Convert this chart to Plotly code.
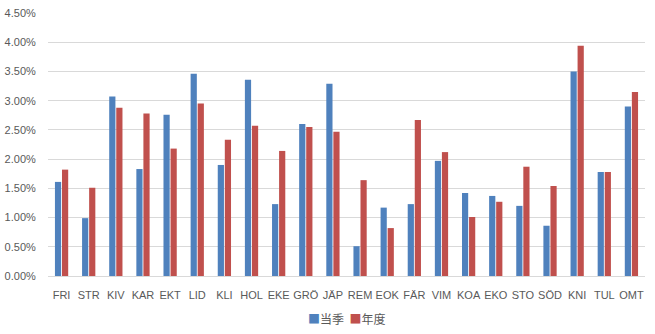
import plotly.graph_objects as go

categories = ["FRI", "STR", "KIV", "KAR", "EKT", "LID", "KLI", "HOL", "EKE", "GRÖ", "JÄP",
              "REM", "EOK", "FÄR", "VIM", "KOA", "EKO", "STO", "SÖD", "KNI", "TUL", "OMT"]
season = [1.61, 0.99, 3.07, 1.83, 2.76, 3.46, 1.90, 3.36, 1.23, 2.60, 3.29,
          0.51, 1.17, 1.23, 1.97, 1.42, 1.37, 1.20, 0.86, 3.50, 1.78, 2.90]
year = [1.82, 1.51, 2.88, 2.78, 2.18, 2.95, 2.33, 2.57, 2.14, 2.55, 2.47,
        1.64, 0.82, 2.67, 2.12, 1.01, 1.27, 1.87, 1.54, 3.94, 1.78, 3.15]
series_names = ["当季", "年度"]
colors = ["#4F81BD", "#C0504D"]
yticks = [0, 0.5, 1.0, 1.5, 2.0, 2.5, 3.0, 3.5, 4.0, 4.5]

fig = go.Figure()
for name, vals, col in zip(series_names, [season, year], colors):
    fig.add_trace(go.Bar(x=categories, y=[v / 100 for v in vals], name=name,
                         marker=dict(color=col, line=dict(width=0))))

legend_text = "  ".join(
    f"<span style='color:{c}'>■</span>{n}" for n, c in zip(series_names, colors)
)

font_family = "Liberation Sans, Noto Sans CJK SC, sans-serif"
fig.update_layout(
    width=655, height=334,
    margin=dict(l=48, r=10, t=13, b=58, autoexpand=False),
    barmode="group", bargap=0.48, bargroupgap=0.12,
    plot_bgcolor="white", paper_bgcolor="white",
    font=dict(family=font_family, size=11, color="#595959"),
    showlegend=False,
    annotations=[dict(text=legend_text, xref="paper", yref="paper", x=0.5, y=-0.16,
                      xanchor="center", yanchor="middle", showarrow=False,
                      font=dict(size=12, color="#595959",
                                family="Noto Sans CJK SC, sans-serif"))],
    xaxis=dict(showgrid=False, showline=False, ticks="outside", ticklen=9,
               tickcolor="rgba(0,0,0,0)", tickfont=dict(size=11)),
    yaxis=dict(range=[0, 0.045], tickvals=[t / 100 for t in yticks], tickformat=".2%",
               showgrid=True, gridcolor="#D9D9D9", gridwidth=1, zeroline=True,
               zerolinecolor="#D9D9D9", zerolinewidth=1, showline=False,
               ticks="outside", ticklen=9, tickcolor="rgba(0,0,0,0)",
               tickfont=dict(size=11)),
)

fig.write_html("out.html")
